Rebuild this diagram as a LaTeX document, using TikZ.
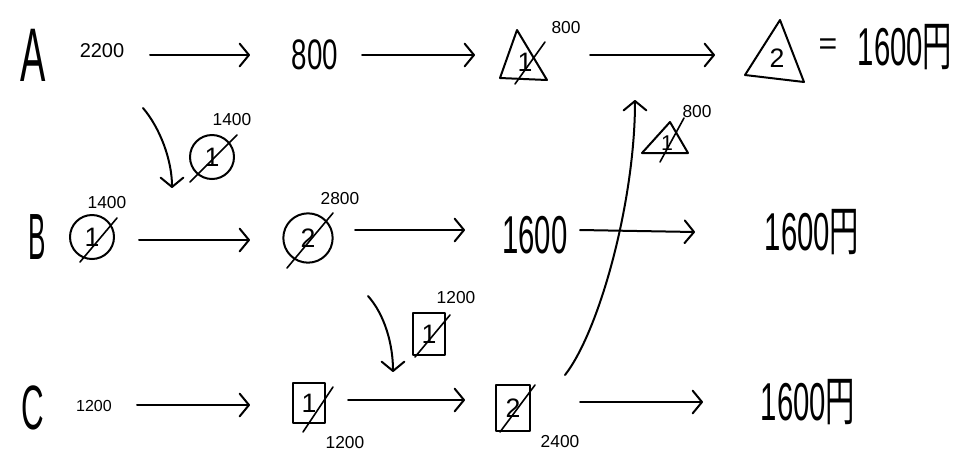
\documentclass[tikz,border=0pt]{standalone}
\usepackage{fontspec}
\setmainfont{Liberation Sans}
\newfontfamily\cjk{Noto Sans CJK JP}
\usetikzlibrary{arrows.meta}
\newcommand\hw[3]{\scalebox{#1}[1]{\fontsize{#2}{#2}\selectfont #3}}
\begin{document}
\begin{tikzpicture}[x=0.75pt,y=-0.75pt,line width=1.5pt,line cap=round,line join=round,
  arr/.style={-{Straight Barb[length=7pt,width=17pt,round]}},
  lbl/.style={inner sep=0pt,font=\fontsize{13}{13}\selectfont},
  txt/.style={inner sep=0pt},
  num/.style={inner sep=0pt,font=\fontsize{20}{20}\selectfont},
  slash/.style={line width=1.2pt}]
\useasboundingbox (0,0) rectangle (960,455);

% row letters
\node[txt] (lA) at (33,55) {\hw{0.5}{57}{A}};
\node[txt] (lB) at (37,237) {\hw{0.4}{49}{B}};
\node[txt] (lC) at (33,408) {\hw{0.5}{47}{C}};

% ---------- row A ----------
\node[lbl,font=\fontsize{15}{15}\selectfont] (a2200) at (102,51) {2200};
\node[txt] (a800) at (315,55) {\hw{0.65}{32}{800}};
\draw (500,78) -- (517,30) -- (547,80) -- cycle;
\node[num] (t1) at (525,62) {1};
\draw[slash] (515,84) -- (545,42);
\node[lbl] (t1v) at (566,28) {800};
\draw (745,75) -- (780,20) -- (804,82) -- cycle;
\node[num] (t2) at (777,58) {2};
\node[txt] (eq) at (828,47) {\hw{1}{24}{=}};
\node[txt] (aRes) at (905,47) {\hw{0.55}{40}{1600{\cjk 円}}};

\coordinate (a1s) at (150,55); \coordinate (a1e) at (250,55);
\coordinate (a2s) at (362,55); \coordinate (a2e) at (475,55);
\coordinate (a3s) at (590,55); \coordinate (a3e) at (715,55);
\draw[arr] (a1s) -- (a1e);
\draw[arr] (a2s) -- (a2e);
\draw[arr] (a3s) -- (a3e);

% ---------- row B ----------
\node[num,circle,draw,minimum size=33pt] (b1) at (92,237) {1};
\draw[slash] (80,262) -- (117,218);
\node[lbl] (b1v) at (107,203) {1400};
\node[num,circle,draw,minimum size=37pt] (b2) at (308,238) {2};
\draw[slash] (287,268) -- (333,213);
\node[lbl] (b2v) at (340,199) {2800};
\node[txt] (b1600) at (535,235) {\hw{0.55}{40}{1600}};
\node[txt] (bRes) at (812,232) {\hw{0.55}{40}{1600{\cjk 円}}};

\coordinate (b1s) at (139,240); \coordinate (b1e) at (250,240);
\coordinate (b2s) at (355,230); \coordinate (b2e) at (465,230);
\coordinate (b3s) at (580,230); \coordinate (b3e) at (695,232);
\draw[arr] (b1s) -- (b1e);
\draw[arr] (b2s) -- (b2e);
\draw[arr] (b3s) -- (b3e);

% ---------- row C ----------
\node[lbl,font=\fontsize{12}{12}\selectfont] (c1200) at (94,406) {1200};
\node[num,draw,minimum width=24pt,minimum height=30pt] (s1) at (309,403) {1};
\draw[slash] (303,432) -- (333,387);
\node[lbl] (s1v) at (345,443) {1200};
\node[num,draw,minimum width=26pt,minimum height=35pt] (s2) at (513,408) {2};
\draw[slash] (500,432) -- (535,385);
\node[lbl] (s2v) at (560,442) {2400};
\node[txt] (cRes) at (808,402) {\hw{0.55}{40}{1600{\cjk 円}}};

\coordinate (c1s) at (137,405); \coordinate (c1e) at (250,405);
\coordinate (c2s) at (348,400); \coordinate (c2e) at (465,400);
\coordinate (c3s) at (580,402); \coordinate (c3e) at (703,402);
\draw[arr] (c1s) -- (c1e);
\draw[arr] (c2s) -- (c2e);
\draw[arr] (c3s) -- (c3e);

% ---------- transfers ----------
\node[num,circle,draw,minimum size=33pt] (ab) at (212,157) {1};
\draw[slash] (190,182) -- (237,135);
\node[lbl] (abv) at (232,120) {1400};
\coordinate (abs) at (143,108); \coordinate (abe) at (172,188);
\draw[arr] (abs) .. controls (160,128) and (172,160) .. (abe);

\node[num,draw,minimum width=24pt,minimum height=31pt] (bc) at (429,334) {1};
\draw[slash] (415,357) -- (450,315);
\node[lbl] (bcv) at (456,298) {1200};
\coordinate (bcs) at (368,296); \coordinate (bce) at (393,372);
\draw[arr] (bcs) .. controls (385,315) and (393,345) .. (bce);

\draw (642,153) -- (670,122) -- (688,153) -- cycle;
\node[num,font=\fontsize{16}{16}\selectfont] (ca) at (667,143) {1};
\draw[slash] (660,162) -- (684,118);
\node[lbl] (cav) at (697,112) {800};
\coordinate (cas) at (565,375); \coordinate (cae) at (635,100);
\draw[arr] (cas) .. controls (600,330) and (635,200) .. (cae);
\end{tikzpicture}
\end{document}
